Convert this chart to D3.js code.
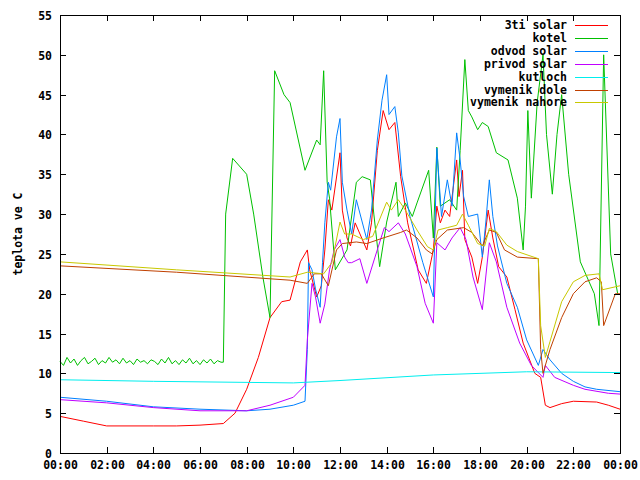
<!DOCTYPE html>
<html><head><meta charset="utf-8">
<script src="https://cdn.jsdelivr.net/npm/d3@7"></script>
<style>body{margin:0;background:#fff}text{font-family:"DejaVu Sans Mono",monospace;font-weight:bold;font-size:11.5px}</style>
</head><body><svg id="c" width="640" height="480"></svg>
<script>
const seriesNames=["3ti solar","kotel","odvod solar","privod solar","kutloch","vymenik dole","vymenik nahore"];
const seriesColors=["#ff0000","#00c000","#0080ff","#c000ff","#00eeee","#c04000","#c8c800"];
const xTickLabels=["00:00","02:00","04:00","06:00","08:00","10:00","12:00","14:00","16:00","18:00","20:00","22:00","00:00"];
const yTicks=[0,5,10,15,20,25,30,35,40,45,50,55];
const solar3ti=[[0,4.6],[1,4],[2,3.4],[3,3.4],[4,3.4],[5,3.4],[6,3.5],[7,3.7],[7.5,5],[8,8],[8.5,12],[9,17],[9.5,19],[9.86,19.2],[10.3,24],[10.6,25.5],[10.7,23],[11,19.6],[11.2,21],[11.35,25.5],[11.5,31.8],[11.65,30.5],[12,37.7],[12.1,30.5],[12.3,27],[12.45,26],[12.65,28.9],[13.15,25.5],[13.35,28.9],[13.6,38],[13.85,43],[14.1,40.6],[14.35,41.5],[14.6,34.7],[14.9,28.9],[15.35,23],[15.7,21.3],[16,25.5],[16.15,31],[16.3,28.9],[16.5,30.5],[16.7,29.7],[17,36.8],[17.1,32.2],[17.25,35.5],[17.35,26.8],[17.65,24.6],[17.9,21.3],[18.1,24.6],[18.35,30.5],[18.55,27],[18.8,23.4],[19.15,22.1],[19.5,18],[19.85,13.8],[20.35,10],[20.6,9.5],[20.8,6],[21,5.7],[21.5,6.2],[22,6.5],[23,6.4],[23.5,6],[24,5.5]];
const kotel=[[0,11.5],[0.15,11],[0.3,12],[0.45,11.3],[0.6,11.8],[0.75,11],[0.9,11.6],[1.05,12],[1.2,11.2],[1.35,11.5],[1.5,11.9],[1.65,11.1],[1.8,11.6],[1.95,11.3],[2.1,12],[2.25,11.4],[2.4,11.7],[2.55,11.2],[2.7,11.9],[2.85,11.3],[3,11.6],[3.15,11.1],[3.3,11.8],[3.45,11.4],[3.6,11.6],[3.75,11.2],[3.9,11.7],[4.05,11.5],[4.2,11.1],[4.35,11.8],[4.5,11.3],[4.65,12],[4.8,11.2],[4.95,11.6],[5.1,11.1],[5.25,11.7],[5.4,11.3],[5.55,11.9],[5.7,11.2],[5.85,11.6],[6,11.1],[6.15,11.7],[6.3,11.3],[6.45,11.8],[6.6,11.2],[6.75,11.6],[6.9,11.4],[7,11.4],[7.1,30],[7.4,37],[8,35],[8.3,30],[8.7,22],[9,17],[9.2,48],[9.6,45],[9.86,44],[10.5,35.5],[11,39.3],[11.15,38.7],[11.3,48],[11.45,34],[11.55,32],[11.8,23],[12.3,25.5],[12.7,34],[12.95,34.7],[13.3,34.3],[13.45,30],[13.7,23.4],[14,29],[14.4,34],[14.5,29.7],[14.8,31.4],[15.1,29.7],[15.3,31.4],[15.8,35.5],[16,27],[16.15,38.4],[16.3,31],[16.7,31.8],[17,30.5],[17.15,38],[17.35,49.4],[17.5,43],[17.65,42.2],[17.9,40.6],[18.1,41.5],[18.35,41],[18.7,37.7],[19.2,36.8],[19.6,32],[19.85,25.5],[19.95,31],[20.05,43],[20.2,32],[20.45,44],[20.7,50],[20.85,40],[21.1,32.5],[21.3,40],[21.5,45],[21.8,35],[22.3,24],[22.9,20],[23.1,16],[23.3,50],[23.6,25],[23.9,20]];
const odvod=[[0,7],[2,6.5],[4,5.8],[6,5.5],[8,5.3],[9,5.5],[10,6],[10.5,6.5],[10.6,13],[10.65,23.9],[10.8,23],[10.95,20.6],[11.15,18.3],[11.25,23.9],[11.35,28.9],[11.5,34],[11.6,33],[11.85,39.7],[12,42],[12.1,34],[12.3,30.5],[12.5,27.5],[12.7,31.8],[13.15,26.8],[13.35,30.5],[13.6,39.3],[13.8,44.3],[14,47.5],[14.1,42.5],[14.35,43.5],[14.5,40.2],[14.65,34.8],[15,29.7],[15.55,23.9],[16,19.6],[16.15,38.3],[16.35,29.7],[16.6,34.3],[16.8,31],[17,40.2],[17.15,36.8],[17.3,32.2],[17.5,29.7],[17.9,30],[18.1,24.6],[18.25,29],[18.4,34.3],[18.55,29.7],[18.75,26],[19.15,21.3],[19.6,18.3],[20,14.2],[20.5,11],[20.7,13],[21,11.7],[21.5,10],[22,9],[22.5,8.3],[23,8],[24,7.7]];
const privod=[[0,6.7],[2,6.3],[4,5.7],[6,5.3],[8,5.3],[9,6],[10,7],[10.5,8.5],[10.6,14.2],[10.8,21.3],[10.95,19.6],[11.15,16.3],[11.35,18.7],[11.55,23],[11.75,25.5],[12,26.8],[12.2,24.6],[12.35,23.9],[12.5,23.9],[12.85,24.4],[13.15,21.3],[13.5,24.6],[13.9,28.3],[14.1,27.8],[14.5,28.9],[14.8,27.5],[15.3,23.4],[15.65,18.8],[16,16.3],[16.15,26.4],[16.5,25.5],[16.8,27],[17.15,28.3],[17.4,26.8],[17.7,22.1],[18.1,18],[18.4,26.4],[18.7,24],[19.15,18.3],[19.7,13.8],[20.2,11],[20.7,9.5],[20.8,11],[21.2,9.5],[22,8.5],[22.5,8],[23.5,7.5],[24,7.4]];
const kutloch=[[0,9.2],[4,9],[10,8.8],[12,9.1],[16,9.8],[20,10.2],[24,10.1]];
const vymDole=[[0,23.5],[5,22.7],[9.86,21.7],[10.6,21.3],[10.9,22.5],[11.2,22.5],[11.5,21],[11.85,25.5],[12.1,26.3],[12.7,26.5],[13.15,26.3],[13.85,27],[14.6,27.7],[14.85,28],[15.3,27],[15.7,25.5],[15.95,25],[16.15,26.8],[16.6,28],[17.3,28.3],[17.65,27.7],[18.1,26],[18.4,28],[18.7,27.7],[19.05,25.5],[19.6,24.6],[20.5,24.4],[20.6,13],[20.7,10],[21,13],[21.5,17],[22,20],[22.5,21.5],[23,22],[23.2,21.5],[23.3,16],[23.8,20],[24,20]];
const vymNahore=[[0,24],[5,23],[9.86,22.1],[10.6,22.7],[11.3,22.5],[11.65,23.9],[12,29],[12.2,27.5],[12.5,27.5],[13,26.8],[13.4,27.2],[14,31.5],[14.2,30.5],[14.5,31.8],[14.8,30.5],[15.3,28],[15.75,25.9],[16,25.5],[16.2,28],[16.6,28.3],[17,28.6],[17.25,30],[17.5,28.6],[17.9,26.3],[18.2,26],[18.4,28.2],[18.7,27.8],[19.15,26.1],[19.6,25.3],[20.5,24.4],[20.6,16],[20.8,12],[21,14],[21.5,19],[22,21.5],[22.5,22.3],[23.1,22.5],[23.25,20.5],[24,21]];
const allSeries=[solar3ti,kotel,odvod,privod,kutloch,vymDole,vymNahore];

const svg=d3.select("#c");
const L=60,R=620,T=15,B=453;
const x=d3.scaleLinear().domain([0,24]).range([L,R]);
const y=d3.scaleLinear().domain([0,55]).range([B,T]);
const line=d3.line().x(d=>x(d[0])).y(d=>y(d[1]));
allSeries.forEach((s,i)=>{
  svg.append("path").datum(s).attr("d",line).attr("fill","none").attr("stroke",seriesColors[i]).attr("stroke-width",1);
});
const g=svg.append("g");
g.append("rect").attr("x",L+0.5).attr("y",T+0.5).attr("width",R-L).attr("height",B-T).attr("fill","none").attr("stroke","#000").attr("shape-rendering","crispEdges");
yTicks.forEach(v=>{
  const yy=Math.round(y(v))+0.5;
  g.append("line").attr("x1",L).attr("x2",L+6).attr("y1",yy).attr("y2",yy).attr("stroke","#000").attr("shape-rendering","crispEdges");
  g.append("line").attr("x1",R-6).attr("x2",R).attr("y1",yy).attr("y2",yy).attr("stroke","#000").attr("shape-rendering","crispEdges");
  g.append("text").attr("x",L-8).attr("y",yy+4).attr("text-anchor","end").text(v);
});
xTickLabels.forEach((lab,i)=>{
  const xx=Math.round(x(i*2))+0.5;
  g.append("line").attr("x1",xx).attr("x2",xx).attr("y1",B).attr("y2",B-6).attr("stroke","#000").attr("shape-rendering","crispEdges");
  g.append("line").attr("x1",xx).attr("x2",xx).attr("y1",T).attr("y2",T+6).attr("stroke","#000").attr("shape-rendering","crispEdges");
  g.append("text").attr("x",xx).attr("y",B+16).attr("text-anchor","middle").text(lab);
});
g.append("text").attr("transform","translate(22,234) rotate(-90)").attr("text-anchor","middle").text("teplota ve C");
seriesNames.forEach((n,i)=>{
  const yy=Math.round(25+i*12.9);
  g.append("text").attr("x",567).attr("y",yy+4).attr("text-anchor","end").text(n);
  g.append("line").attr("x1",575).attr("x2",608).attr("y1",yy+0.5).attr("y2",yy+0.5).attr("stroke",seriesColors[i]).attr("stroke-width",1.5).attr("shape-rendering","crispEdges");
});
</script></body></html>
